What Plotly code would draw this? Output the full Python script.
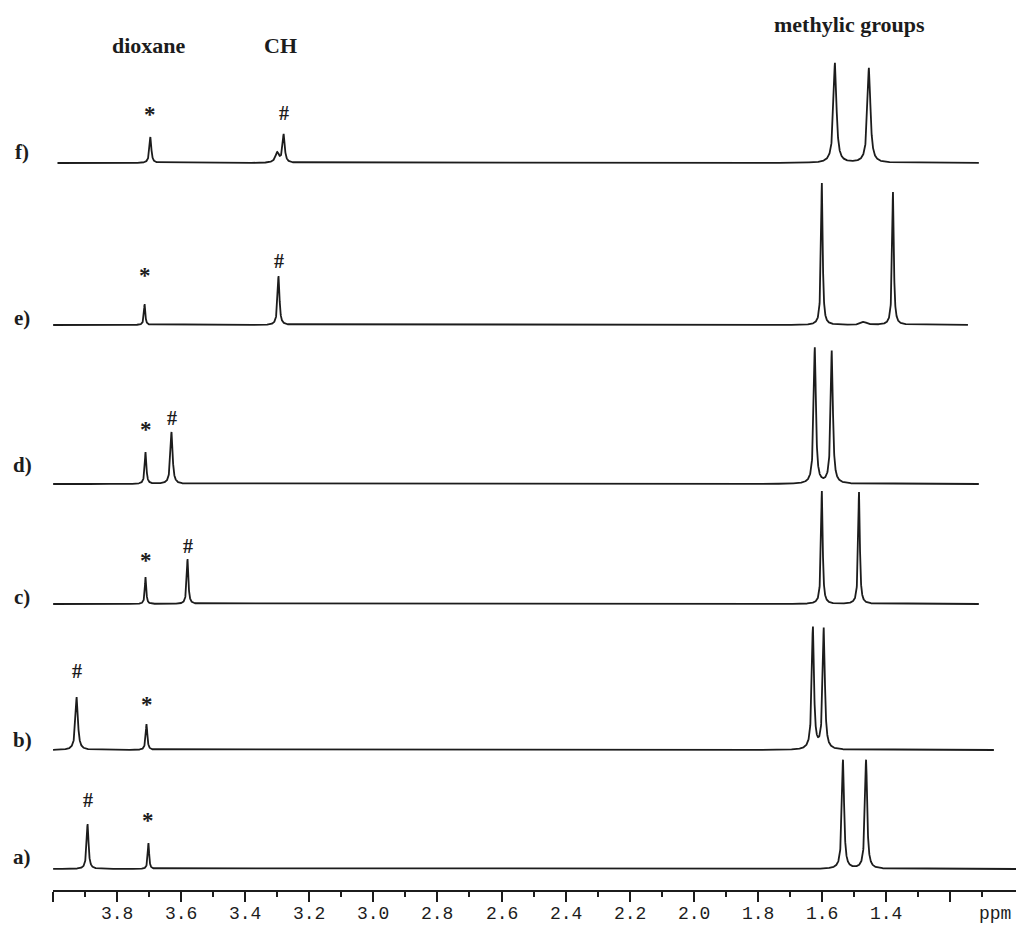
import numpy as np
import plotly.graph_objects as go

# ---------------- data ----------------
row_labels = ["a)", "b)", "c)", "d)", "e)", "f)"]

# peak positions (ppm), heights (a.u.), widths (FWHM, ppm)
a_ppm = [3.892, 3.702, 1.534, 1.462]
a_height = [45, 26, 109, 109]
a_width = [0.007, 0.005, 0.008, 0.008]
a_span = [4.0, 0.994]

b_ppm = [3.926, 3.708, 1.628, 1.594]
b_height = [53, 26, 122, 121]
b_width = [0.009, 0.006, 0.008, 0.008]
b_span = [4.0, 1.063]

c_ppm = [3.711, 3.580, 1.600, 1.484]
c_height = [27, 45, 113, 112]
c_width = [0.005, 0.006, 0.006, 0.006]
c_span = [4.0, 1.110]

d_ppm = [3.711, 3.630, 1.622, 1.569]
d_height = [32, 52, 136, 133]
d_width = [0.006, 0.008, 0.008, 0.008]
d_span = [4.0, 1.110]

e_ppm = [3.714, 3.296, 1.600, 1.469, 1.378]
e_height = [21, 49, 142, 3, 133]
e_width = [0.005, 0.007, 0.006, 0.02, 0.006]
e_span = [4.0, 1.144]

f_ppm = [3.696, 3.300, 3.280, 1.559, 1.453]
f_height = [26, 10, 28, 100, 95]
f_width = [0.007, 0.014, 0.008, 0.011, 0.011]
f_span = [3.986, 1.110]

# peak markers: (row, symbol, ppm, label height above baseline)
marker_row = ["a", "a", "b", "b", "c", "c", "d", "d", "e", "e", "f", "f"]
marker_sym = ["#", "*", "#", "*", "*", "#", "*", "#", "*", "#", "*", "#"]
marker_ppm = [3.892, 3.702, 3.926, 3.708, 3.711, 3.580, 3.711, 3.630, 3.714, 3.296, 3.696, 3.280]
marker_lift = [69, 56, 79, 53, 51, 58, 62, 66, 57, 64, 56, 50]

group_labels = ["dioxane", "CH", "methylic groups"]
group_ppm = [3.701, 3.289, 1.513]

major_ticks = [4.0, 3.8, 3.6, 3.4, 3.2, 3.0, 2.8, 2.6, 2.4, 2.2, 2.0, 1.8, 1.6, 1.4, 1.2]
major_text = ["", "3.8", "3.6", "3.4", "3.2", "3.0", "2.8", "2.6", "2.4", "2.2", "2.0",
              "1.8", "1.6", "1.4", ""]
minor_ticks = [3.9, 3.7, 3.5, 3.3, 3.1, 2.9, 2.7, 2.5, 2.3, 2.1, 1.9, 1.7, 1.5, 1.3, 1.1]
unit_label = "ppm"
unit_ppm = 1.06

# ---------------- layout constants ----------------
row_keys = ["a", "b", "c", "d", "e", "f"]
row_offset = {"a": 21, "b": 140, "c": 286, "d": 406, "e": 565, "f": 727}
row_label_lift = {"a": 12, "b": 10, "c": 7, "d": 19, "e": 7, "f": 11}
group_y = [45, 45, 25]   # pixel rows from top
TICKLABEL_Y = -0.027     # paper units below the axis
INK = "#1c1c1c"

spectra = {
    "a": (a_ppm, a_height, a_width, a_span),
    "b": (b_ppm, b_height, b_width, b_span),
    "c": (c_ppm, c_height, c_width, c_span),
    "d": (d_ppm, d_height, d_width, d_span),
    "e": (e_ppm, e_height, e_width, e_span),
    "f": (f_ppm, f_height, f_width, f_span),
}


def lineshape(x, centers, heights, widths):
    y = np.zeros_like(x)
    for c, h, w in zip(centers, heights, widths):
        g = w / 2.0
        y += h * g * g / ((x - c) ** 2 + g * g)
    return y


fig = go.Figure()
for key, (ppm, hgt, wid, span) in spectra.items():
    x = np.arange(span[1], span[0], 0.0004)
    y = lineshape(x, ppm, hgt, wid) + row_offset[key]
    fig.add_trace(go.Scatter(x=x, y=y, mode="lines",
                             line=dict(color=INK, width=1.8),
                             hoverinfo="skip", showlegend=False))

annotations = []
serif = "Liberation Serif"
mono = "Liberation Mono"
for key, lab in zip(row_keys, row_labels):
    annotations.append(dict(x=-0.032, xref="paper", y=row_offset[key] + row_label_lift[key],
                            yref="y", text="<b>%s</b>" % lab, showarrow=False,
                            font=dict(family=serif, size=21, color=INK),
                            xanchor="center", yanchor="middle"))

for r, s, p, lift in zip(marker_row, marker_sym, marker_ppm, marker_lift):
    yshift = -7 if s == "*" else 0
    size = 23 if s == "*" else 20
    annotations.append(dict(x=p, xref="x", y=row_offset[r] + lift, yref="y",
                            text="<b>%s</b>" % s, showarrow=False, yshift=yshift,
                            font=dict(family=serif, size=size, color=INK),
                            xanchor="center", yanchor="middle"))

for t, p, gy in zip(group_labels, group_ppm, group_y):
    annotations.append(dict(x=p, xref="x", y=(890 - gy) / 890.0,
                            yref="paper", yanchor="middle",
                            text="<b>%s</b>" % t, showarrow=False,
                            font=dict(family=serif, size=22, color=INK),
                            xanchor="center"))

# tick labels (drawn as annotations so they sit just above the bottom edge)
for v, t in zip(major_ticks + [unit_ppm], major_text + [unit_label]):
    if not t:
        continue
    annotations.append(dict(x=v, xref="x", y=TICKLABEL_Y, yref="paper", text=t,
                            showarrow=False, font=dict(family=mono, size=18, color=INK),
                            xanchor="center", yanchor="middle"))

fig.update_layout(
    width=1016, height=925,
    margin=dict(l=53, r=0, t=0, b=35, autoexpand=False),
    paper_bgcolor="white", plot_bgcolor="white",
    showlegend=False,
    annotations=annotations,
    xaxis=dict(range=[4.0, 0.994], showline=True, linecolor=INK, linewidth=2,
               automargin=False,
               ticks="outside", ticklen=10, tickwidth=1.5, tickcolor=INK,
               tickmode="array", tickvals=major_ticks, showticklabels=False,
               minor=dict(tickmode="array", tickvals=minor_ticks, ticks="outside",
                          ticklen=5, tickwidth=1.5, tickcolor=INK),
               showgrid=False, zeroline=False, fixedrange=True),
    yaxis=dict(range=[0, 890], visible=False, fixedrange=True, automargin=False),
)

fig.write_html("out.html",
               config={"displayModeBar": False},
               post_script="document.body.style.margin='0';document.body.style.overflow='hidden';")
